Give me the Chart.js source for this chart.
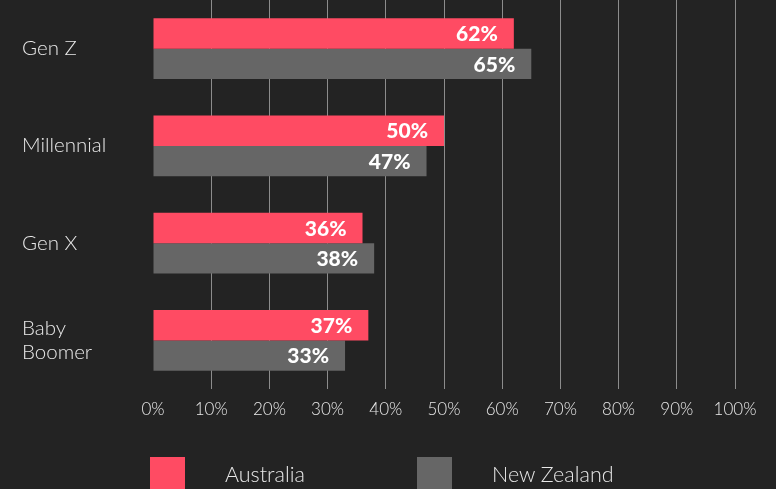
<!DOCTYPE html>
<html>
<head>
<meta charset="utf-8">
<script src="https://cdn.jsdelivr.net/npm/chart.js@4/dist/chart.umd.min.js"></script>
<style>
    html, body { margin: 0; padding: 0; background: #232323; overflow: hidden; }
    #wrap { position: relative; width: 776px; height: 489px; }
    #chart-box { position: absolute; left: 0; top: 0; width: 776px; height: 440px; }
    #legend { position: absolute; left: 0; top: 0; width: 776px; height: 489px; pointer-events: none; }
    .lg-box { position: absolute; width: 35px; height: 35px; }
    .lg-text { position: absolute; font: 300 21.5px Lato, "Open Sans", sans-serif; color: #e8e8e8; line-height: 22px; }
</style>
</head>
<body>
<div id="wrap">
    <div id="chart-box"><canvas id="gen-chart" width="776" height="440"></canvas></div>
    <div id="legend"></div>
</div>
<script>
// chart data
const categories = ['Gen Z', 'Millennial', 'Gen X', ['Baby', 'Boomer']];
const seriesNames = ['Australia', 'New Zealand'];
const australia = [62, 50, 36, 37];
const newZealand = [65, 47, 38, 33];
const xTicks = [0, 10, 20, 30, 40, 50, 60, 70, 80, 90, 100];
const seriesColors = ['#ff4b63', '#666666'];

// white value labels at the end of each bar
const barValueLabels = {
    id: 'barValueLabels',
    afterDatasetsDraw(chart) {
        const ctx = chart.ctx;
        ctx.save();
        ctx.font = '900 21px Lato, "Open Sans", sans-serif';
        ctx.fillStyle = '#ffffff';
        ctx.textAlign = 'right';
        ctx.textBaseline = 'middle';
        chart.data.datasets.forEach((ds, i) => {
            chart.getDatasetMeta(i).data.forEach((bar, j) => {
                ctx.fillText(ds.data[j] + '%', bar.x - 16, bar.y + 1);
            });
        });
        ctx.restore();
    }
};

const ctx = document.getElementById('gen-chart').getContext('2d');
const genChart = new Chart(ctx, {
    type: 'bar',
    data: {
        labels: categories,
        datasets: [
            { label: seriesNames[0], data: australia, backgroundColor: seriesColors[0] },
            { label: seriesNames[1], data: newZealand, backgroundColor: seriesColors[1] }
        ]
    },
    options: {
        indexAxis: 'y',
        responsive: false,
        animation: false,
        maintainAspectRatio: false,
        categoryPercentage: 0.625,
        barPercentage: 1,
        layout: { padding: { left: 22, right: 41, top: 0, bottom: 0 } },
        plugins: {
            legend: { display: false },
            tooltip: { enabled: false }
        },
        scales: {
            x: {
                min: 0,
                max: 100,
                afterBuildTicks: scale => { scale.ticks = xTicks.map(v => ({ value: v })); },
                afterFit: scale => { scale.height = 51; },
                border: { display: false },
                grid: {
                    drawTicks: false,
                    color: c => c.index === 0 ? 'rgba(0,0,0,0)' : '#8c8c8c',
                    lineWidth: 1
                },
                ticks: {
                    padding: 10,
                    color: '#e8e8e8',
                    font: { family: 'Lato, "Open Sans", sans-serif', size: 17, weight: 300 },
                    callback: v => v + '%'
                }
            },
            y: {
                afterFit: scale => {
                    scale.width = 131;
                    scale.paddingTop = 0;
                    scale.paddingBottom = 0;
                },
                border: { display: false },
                grid: { display: false, drawTicks: false },
                ticks: {
                    crossAlign: 'far',
                    color: '#e8e8e8',
                    font: { family: 'Lato, "Open Sans", sans-serif', size: 20.5, weight: 300, lineHeight: 1.2 }
                }
            }
        }
    },
    plugins: [barValueLabels]
});

// legend under the chart
const legend = document.getElementById('legend');
const legendX = [150, 417];
seriesNames.forEach((name, i) => {
    const box = document.createElement('div');
    box.className = 'lg-box';
    box.style.left = legendX[i] + 'px';
    box.style.top = '457px';
    box.style.background = seriesColors[i];
    legend.appendChild(box);
    const txt = document.createElement('div');
    txt.className = 'lg-text';
    txt.style.left = (legendX[i] + 75) + 'px';
    txt.style.top = '463px';
    txt.textContent = name;
    legend.appendChild(txt);
});
</script>
</body>
</html>
